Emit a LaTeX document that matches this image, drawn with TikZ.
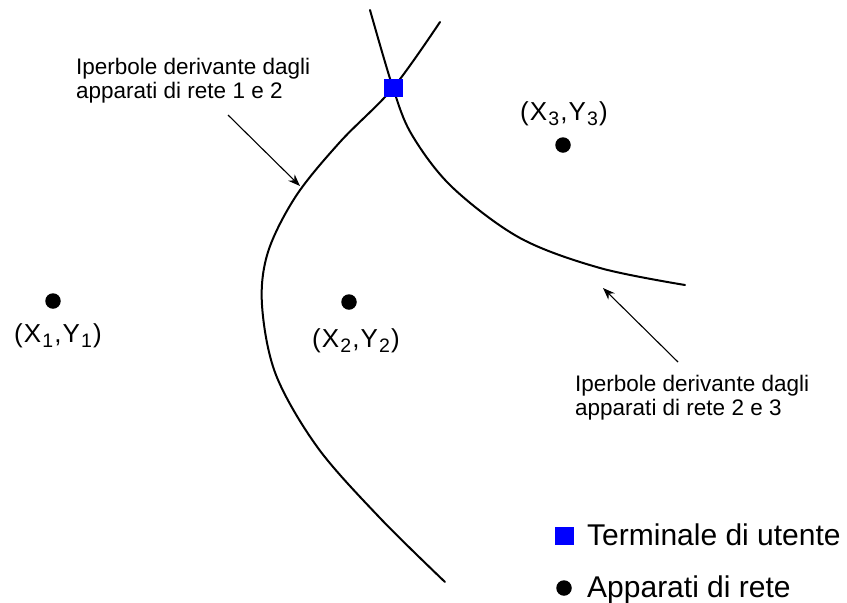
\documentclass[tikz,border=0pt]{standalone}
\usepackage{fontspec}
\setmainfont{Liberation Sans}
\usetikzlibrary{arrows.meta}
\newcommand{\subidx}[1]{\kern1.2pt\raisebox{-0.22em}{\fontsize{19.5}{20}\selectfont #1}\kern1.2pt}
\newcommand{\coordtxt}[1]{(\kern1pt X\subidx{#1},\kern1pt Y\subidx{#1})}
\begin{document}
\begin{tikzpicture}[x=1pt,y=-1pt,
  curve/.style={line width=2pt, line cap=round},
  pointer/.style={line width=1.1pt, -{Stealth[length=12pt,width=9pt]}},
  dot/.style={circle, fill=black, inner sep=0pt, minimum size=15.5pt},
  term/.style={rectangle, fill=blue, inner sep=0pt, minimum size=18.5pt},
  lbl/.style={font=\fontsize{22.5}{23.5}\selectfont, align=left, inner sep=0pt, anchor=north west},
  coord/.style={font=\fontsize{26}{30}\selectfont, inner sep=0pt, anchor=base},
  leg/.style={font=\fontsize{30}{34}\selectfont, inner sep=0pt, anchor=base west}]
\useasboundingbox (0,0) rectangle (847,603);
% hyperbola 1-2
\draw[curve] plot[smooth, tension=0.55] coordinates {(440,22) (393,88) (340,142) (296,196) (268,252) (262,305) (276,375) (318,448) (380,518) (445,582)};
% hyperbola 2-3
\draw[curve] plot[smooth, tension=0.55] coordinates {(370,10) (393,88) (412,135) (452,187) (520,238) (600,268) (685,285)};
% terminal
\node[term] (T) at (393.5,88) {};
% network devices
\node[dot] (A1) at (53,301) {};
\node[dot] (A2) at (349,302) {};
\node[dot] (A3) at (563,145) {};
\node[coord] (L1) at (58,342) {\coordtxt{1}};
\node[coord] (L2) at (356,347) {\coordtxt{2}};
\node[coord] (L3) at (564,120) {\coordtxt{3}};
% labels
\node[lbl] (H1) at (76,58) {Iperbole derivante dagli\\apparati di rete 1 e 2};
\node[lbl] (H2) at (575,375) {Iperbole derivante dagli\\apparati di rete 2 e 3};
\coordinate (a1s) at (228,115);
\coordinate (a1e) at (300,186);
\coordinate (a2s) at (678,362);
\coordinate (a2e) at (603,288);
\draw[pointer] (a1s) -- (a1e);
\draw[pointer] (a2s) -- (a2e);
% legend
\node[term] (LT) at (564.5,536) {};
\node[dot] (LD) at (564,588) {};
\node[leg] (LTt) at (587,545) {Terminale di utente};
\node[leg] (LDt) at (587,597) {Apparati di rete};
\end{tikzpicture}
\end{document}
